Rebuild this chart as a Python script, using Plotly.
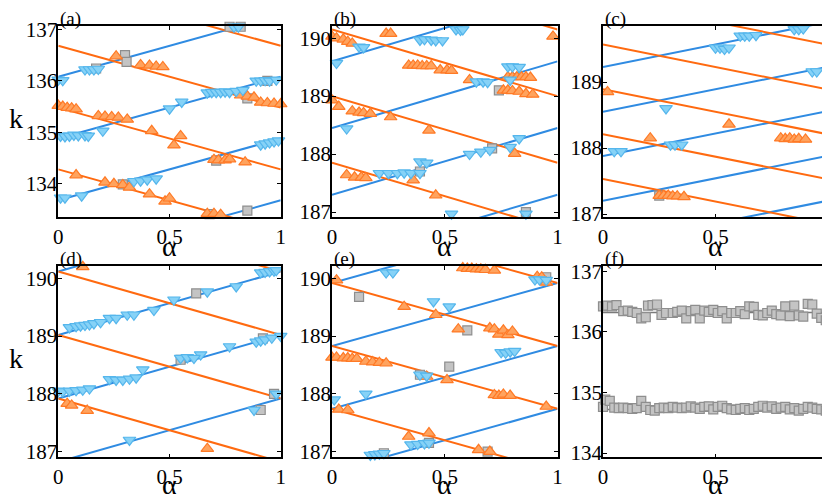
import plotly.graph_objects as go

# ---------------- data ----------------
panels = ["a", "b", "c", "d", "e", "f"]
y_ranges = {"a": [133.35, 137.065], "b": [186.91, 190.21], "c": [186.95, 189.85],
            "d": [186.9, 190.22], "e": [186.9, 190.22], "f": [133.93, 137.09]}
y_ticks = {"a": [134, 135, 136, 137], "b": [187, 188, 189, 190], "c": [187, 188, 189],
           "d": [187, 188, 189, 190], "e": [187, 188, 189, 190], "f": [134, 135, 136, 137]}
x_ticks = [0, 0.5, 1]
x_ticklabels = ["0", "0.5", "1"]

# model lines: k = intercept + slope * alpha
line_slope = {"a": 1.2, "b": 1.15, "c": 0.682, "d": 1.1, "e": 1.09}
blue_intercepts = {"a": [132.48, 133.68, 134.88, 136.08],
                   "b": [186.15, 187.3, 188.45, 189.6],
                   "c": [186.52, 187.2, 187.88, 188.55, 189.23],
                   "d": [186.82, 187.92, 189.02, 190.12],
                   "e": [186.65, 187.74, 188.83, 189.92]}
orange_intercepts = {"a": [134.28, 135.48, 136.68, 137.88],
                     "b": [187.85, 189.0, 190.15, 191.3],
                     "c": [187.53, 188.21, 188.89, 189.57, 190.25],
                     "d": [186.82, 187.92, 189.02, 190.12, 191.22],
                     "e": [187.74, 188.83, 189.92, 191.01]}
flat_levels_f = [136.32, 134.72]

# ---- measured points: orange up-triangles ----
a_up_alpha = [0.0, 0.02, 0.04, 0.06, 0.08, 0.18, 0.21, 0.24, 0.27, 0.31, 0.26, 0.37, 0.41, 0.44, 0.47,
              0.42, 0.52, 0.55, 0.82, 0.85, 0.88, 0.91, 0.94, 0.97, 1.0, 0.70, 0.72, 0.75, 0.77, 0.84,
              0.08, 0.21, 0.25, 0.29, 0.32, 0.41, 0.48, 0.50, 0.67, 0.70, 0.73]
a_up_k = [135.52, 135.50, 135.48, 135.47, 135.45, 135.32, 135.31, 135.30, 135.29, 135.25, 136.48, 136.31,
          136.30, 136.28, 136.27, 135.03, 134.75, 134.93, 135.72, 135.70, 135.68, 135.58, 135.57, 135.56,
          135.55, 134.47, 134.46, 134.46, 134.48, 134.42, 134.17, 134.03, 134.00, 133.98, 133.93, 133.80,
          133.66, 133.72, 133.42, 133.42, 133.40]
b_up_alpha = [0.0, 0.02, 0.05, 0.07, 0.09, 0.24, 0.26, 0.34, 0.36, 0.38, 0.40, 0.42, 0.44, 0.48, 0.51,
              0.53, 0.61, 0.78, 0.80, 0.82, 0.84, 0.86, 0.88, 0.76, 0.78, 0.80, 0.83, 0.86, 0.89, 0.98,
              0.0, 0.03, 0.09, 0.12, 0.14, 0.17, 0.26, 0.43, 0.81, 0.065, 0.1, 0.13, 0.15, 0.36, 0.46]
b_up_k = [190.03, 190.0, 189.98, 189.94, 189.91, 190.08, 190.08, 189.53, 189.53, 189.53, 189.52, 189.52,
          189.52, 189.45, 189.45, 189.44, 189.28, 189.33, 189.33, 189.33, 189.33, 189.33, 189.32, 189.1,
          189.1, 189.09, 189.08, 189.04, 189.03, 190.03, 188.93, 188.82, 188.74, 188.72, 188.71, 188.70,
          188.64, 188.41, 188.01, 187.64, 187.6, 187.6, 187.59, 187.55, 187.29]
c_up_alpha = [0.02, 0.21, 0.56, 0.79, 0.81, 0.83, 0.85, 0.87, 0.9, 0.25, 0.27, 0.29, 0.31, 0.33, 0.36]
c_up_k = [188.85, 188.15, 188.36, 188.15, 188.14, 188.15, 188.13, 188.14, 188.13, 187.28, 187.28, 187.28,
          187.27, 187.27, 187.26]
d_up_alpha = [0.11, 0.04, 0.06, 0.13, 0.67]
d_up_k = [190.2, 187.83, 187.8, 187.71, 187.05]
e_up_alpha = [0.02, 0.32, 0.46, 0.56, 0.58, 0.60, 0.62, 0.64, 0.66, 0.68, 0.72, 0.91, 0.93, 0.95, 0.70,
              0.72, 0.74, 0.76, 0.78, 0.80, 0.0, 0.02, 0.05, 0.07, 0.09, 0.11, 0.15, 0.18, 0.21, 0.24,
              0.42, 0.51, 0.72, 0.74, 0.76, 0.79, 0.95, 0.03, 0.07, 0.34, 0.43, 0.65, 0.70]
e_up_k = [189.97, 189.51, 189.37, 189.12, 190.18, 190.17, 190.17, 190.16, 190.16, 190.15, 190.14, 190.03,
          190.02, 189.93, 189.14, 189.12, 189.03, 189.1, 189.02, 189.08, 188.63, 188.63, 188.62, 188.62,
          188.61, 188.61, 188.56, 188.55, 188.54, 188.53, 188.3, 188.24, 187.98, 187.97, 187.99, 187.97,
          187.78, 187.73, 187.72, 187.26, 187.32, 187.03, 187.0]

# ---- measured points: blue down-triangles ----
a_dn_alpha = [0.0, 0.02, 0.12, 0.14, 0.16, 0.18, 0.79, 0.81, 0.01, 0.03, 0.05, 0.07, 0.09, 0.12, 0.135,
              0.2, 0.5, 0.555, 0.67, 0.69, 0.71, 0.73, 0.75, 0.77, 0.80, 0.83, 0.89, 0.91, 0.93, 0.95,
              0.98, 0.91, 0.93, 0.95, 0.97, 0.99, 0.01, 0.03, 0.105, 0.34, 0.37, 0.40, 0.44]
a_dn_k = [136.02, 136.01, 136.22, 136.22, 136.22, 136.23, 137.05, 137.05, 134.93, 134.92, 134.93, 134.95,
          134.94, 134.94, 134.93, 135.03, 135.46, 135.59, 135.77, 135.78, 135.78, 135.78, 135.79, 135.78,
          135.80, 135.82, 136.0, 136.0, 136.01, 136.0, 136.02, 134.76, 134.78, 134.8, 134.82, 134.84,
          133.73, 133.73, 133.77, 134.05, 134.06, 134.08, 134.1]
b_dn_alpha = [0.02, 0.12, 0.14, 0.39, 0.41, 0.44, 0.46, 0.49, 0.55, 0.57, 0.58, 0.64, 0.67, 0.69, 0.78,
              0.80, 0.83, 0.79, 0.065, 0.21, 0.25, 0.29, 0.32, 0.35, 0.39, 0.39, 0.42, 0.61, 0.66, 0.70,
              0.83, 0.79, 0.53, 0.86]
b_dn_k = [189.57, 189.85, 189.84, 189.97, 189.98, 189.97, 189.96, 189.96, 190.15, 190.14, 190.15, 189.25,
          189.25, 189.24, 189.51, 189.51, 189.5, 189.28, 188.44, 187.67, 187.67, 187.67, 187.68, 187.67,
          187.67, 187.87, 187.85, 188.0, 188.04, 188.07, 188.27, 188.12, 186.97, 186.97]
c_dn_alpha = [0.85, 0.87, 0.89, 0.61, 0.63, 0.65, 0.68, 0.5, 0.52, 0.54, 0.56, 0.93, 0.95, 0.28, 0.05,
              0.08, 0.3, 0.32, 0.35]
c_dn_k = [189.8, 189.8, 189.81, 189.7, 189.7, 189.7, 189.71, 189.52, 189.52, 189.5, 189.52, 189.16,
          189.16, 188.6, 187.95, 187.95, 188.05, 188.05, 188.05]
d_dn_alpha = [0.91, 0.93, 0.95, 0.97, 0.98, 0.80, 0.67, 0.52, 0.43, 0.31, 0.34, 0.23, 0.26, 0.05, 0.08,
              0.10, 0.12, 0.14, 0.16, 0.19, 0.89, 0.91, 0.93, 0.96, 1.0, 0.77, 0.64, 0.55, 0.58, 0.61,
              0.38, 0.23, 0.26, 0.29, 0.32, 0.35, 0.0, 0.02, 0.05, 0.08, 0.11, 0.14, 0.88, 0.98, 0.32]
d_dn_k = [190.1, 190.11, 190.12, 190.13, 190.14, 189.86, 189.77, 189.63, 189.45, 189.37, 189.37, 189.31,
          189.31, 189.15, 189.17, 189.18, 189.19, 189.2, 189.22, 189.24, 188.9, 188.92, 188.94, 188.97,
          189.0, 188.82, 188.68, 188.62, 188.63, 188.62, 188.42, 188.25, 188.24, 188.24, 188.26, 188.28,
          188.05, 188.04, 188.05, 188.06, 188.07, 188.09, 187.72, 188.0, 187.2]
e_dn_alpha = [0.24, 0.27, 0.45, 0.52, 0.75, 0.77, 0.79, 0.81, 0.90, 0.92, 0.95, 0.15, 0.01, 0.39, 0.42,
              0.35, 0.38, 0.41, 0.43, 0.17, 0.19, 0.21, 0.23]
e_dn_k = [190.1, 190.1, 189.6, 189.51, 188.72, 188.71, 188.73, 188.74, 189.98, 189.98, 189.97, 188.0,
          187.9, 188.33, 188.31, 187.12, 187.13, 187.14, 187.15, 186.94, 186.95, 186.96, 186.97]

# ---- measured points: grey squares ----
a_sq_alpha = [0.3, 0.307, 0.17, 0.77, 0.82, 0.71, 0.68, 0.85, 0.85, 0.94, 0.29]
a_sq_k = [136.5, 136.37, 136.24, 137.05, 137.05, 134.45, 133.41, 133.48, 135.66, 136.0, 133.99]
b_sq_alpha = [0.74, 0.39, 0.71, 0.86]
b_sq_k = [189.1, 187.7, 188.1, 187.0]
c_sq_alpha = [0.25]
c_sq_k = [187.28]
d_sq_alpha = [0.62, 0.55, 0.92, 0.91, 0.97]
d_sq_k = [189.74, 188.59, 188.96, 187.72, 188.0]
e_sq_alpha = [0.12, 0.6, 0.52, 0.39, 0.95, 0.43, 0.69, 0.23]
e_sq_k = [189.68, 189.1, 188.47, 188.33, 190.02, 187.15, 187.0, 186.97]
f_sq_alpha_upper = [0.0, 0.02, 0.04, 0.06, 0.09, 0.11, 0.13, 0.15, 0.17, 0.19, 0.2, 0.22, 0.24, 0.26,
                    0.28, 0.31, 0.33, 0.35, 0.37, 0.39, 0.41, 0.43, 0.45, 0.47, 0.49, 0.51, 0.53, 0.55,
                    0.57, 0.59, 0.61, 0.63, 0.65, 0.67, 0.69, 0.71, 0.73, 0.75, 0.77, 0.79, 0.81, 0.83,
                    0.85, 0.87, 0.89, 0.91, 0.93, 0.95, 0.97, 0.99, 1.0]
f_sq_k_upper = [136.42, 136.43, 136.42, 136.44, 136.34, 136.35, 136.33, 136.31, 136.22, 136.24, 136.43,
                136.44, 136.45, 136.28, 136.31, 136.31, 136.33, 136.35, 136.22, 136.34, 136.36, 136.22,
                136.35, 136.33, 136.36, 136.31, 136.34, 136.22, 136.31, 136.31, 136.34, 136.29, 136.42,
                136.41, 136.28, 136.27, 136.31, 136.35, 136.29, 136.27, 136.42, 136.26, 136.43, 136.27,
                136.25, 136.46, 136.45, 136.3, 136.23, 136.19, 136.25]
f_sq_alpha_lower = [0.0, 0.01, 0.03, 0.05, 0.07, 0.09, 0.11, 0.13, 0.15, 0.17, 0.19, 0.21, 0.23, 0.25,
                    0.27, 0.29, 0.31, 0.33, 0.35, 0.37, 0.39, 0.41, 0.43, 0.45, 0.47, 0.49, 0.51, 0.53,
                    0.55, 0.57, 0.59, 0.61, 0.63, 0.65, 0.67, 0.69, 0.71, 0.73, 0.75, 0.77, 0.79, 0.81,
                    0.83, 0.85, 0.87, 0.89, 0.91, 0.93, 0.95, 0.97, 0.99, 1.0]
f_sq_k_lower = [134.76, 134.88, 134.86, 134.75, 134.74, 134.75, 134.74, 134.73, 134.74, 134.86, 134.76,
                134.71, 134.7, 134.74, 134.75, 134.74, 134.76, 134.75, 134.74, 134.75, 134.77, 134.75,
                134.73, 134.76, 134.77, 134.72, 134.76, 134.78, 134.74, 134.72, 134.71, 134.73, 134.74,
                134.71, 134.73, 134.76, 134.78, 134.75, 134.77, 134.73, 134.75, 134.76, 134.72, 134.74,
                134.7, 134.73, 134.76, 134.75, 134.73, 134.72, 134.7, 134.74]

panel_labels = ["(a)", "(b)", "(c)", "(d)", "(e)", "(f)"]

# ---------------- styling ----------------
# The page body has an 8 px margin, so the figure is drawn 8 px in from the
# window's top-left corner; window-pixel positions are shifted by OFF.
OFF = 8
W, H = 830 - OFF, 499 - OFF
col_px = [(58.3, 280.7), (332.0, 557.5), (603.0, 828.0)]
row_px = [(26.0, 217.3), (265.7, 457.3)]
alpha_label_gap = [29, 27]
ORANGE = "#FF6A10"
BLUE = "#2F8BE2"
UP_FILL, UP_EDGE = "#FFA35E", "#FF7A26"
DN_FILL, DN_EDGE = "#86D2F7", "#55B6EC"
SQ_FILL, SQ_EDGE = "#C4C4C4", "#8E8E8E"
FONT = "Liberation Serif, Times New Roman, serif"


def fx(px):
    return (px - OFF) / W


def fy(py):
    return 1 - (py - OFF) / H


up = {"a": (a_up_alpha, a_up_k), "b": (b_up_alpha, b_up_k), "c": (c_up_alpha, c_up_k),
      "d": (d_up_alpha, d_up_k), "e": (e_up_alpha, e_up_k)}
dn = {"a": (a_dn_alpha, a_dn_k), "b": (b_dn_alpha, b_dn_k), "c": (c_dn_alpha, c_dn_k),
      "d": (d_dn_alpha, d_dn_k), "e": (e_dn_alpha, e_dn_k)}
sq = {"a": (a_sq_alpha, a_sq_k), "b": (b_sq_alpha, b_sq_k), "c": (c_sq_alpha, c_sq_k),
      "d": (d_sq_alpha, d_sq_k), "e": (e_sq_alpha, e_sq_k),
      "f": (f_sq_alpha_upper + f_sq_alpha_lower, f_sq_k_upper + f_sq_k_lower)}

fig = go.Figure()
layout = dict(template="none", width=W, height=H, margin=dict(l=0, r=0, t=0, b=0, pad=0),
              paper_bgcolor="white", plot_bgcolor="white", showlegend=False)
annotations = []

for i, p in enumerate(panels):
    r, c = divmod(i, 3)
    n = i + 1
    xs = "" if n == 1 else str(n)
    xref, yref = "x" + xs, "y" + xs
    x0, x1 = col_px[c]
    top, bot = row_px[r]
    axis_common = dict(showline=True, linecolor="black", linewidth=1.6, mirror="allticks",
                       ticks="inside", ticklen=4, tickwidth=1, tickcolor="black",
                       showgrid=False, zeroline=False, automargin=False,
                       tickfont=dict(family=FONT, size=21, color="black"))
    layout["xaxis" + xs] = dict(axis_common, domain=[fx(x0), fx(x1)], range=[0, 1],
                                tickvals=x_ticks, ticktext=x_ticklabels, anchor=yref)
    layout["yaxis" + xs] = dict(axis_common, domain=[fy(bot), fy(top)], range=y_ranges[p],
                                tickvals=y_ticks[p], ticktext=[str(t) for t in y_ticks[p]],
                                anchor=xref, ticklabelstandoff=-5)

    # lines
    if p in line_slope:
        s = line_slope[p]
        for b0 in blue_intercepts[p]:
            fig.add_trace(go.Scatter(x=[0, 1], y=[b0, b0 + s], mode="lines",
                                     line=dict(color=BLUE, width=2), xaxis=xref, yaxis=yref,
                                     hoverinfo="skip"))
        for o0 in orange_intercepts[p]:
            fig.add_trace(go.Scatter(x=[0, 1], y=[o0, o0 - s], mode="lines",
                                     line=dict(color=ORANGE, width=2), xaxis=xref, yaxis=yref,
                                     hoverinfo="skip"))
    else:
        for lv in flat_levels_f:
            fig.add_trace(go.Scatter(x=[0, 1], y=[lv, lv], mode="lines",
                                     line=dict(color="#7A7A7A", width=1.5), xaxis=xref, yaxis=yref,
                                     hoverinfo="skip"))
    # markers
    if p in sq:
        fig.add_trace(go.Scatter(x=sq[p][0], y=sq[p][1], mode="markers", cliponaxis=False,
                                 marker=dict(symbol="square", size=9, color=SQ_FILL,
                                             line=dict(color=SQ_EDGE, width=1.2)),
                                 xaxis=xref, yaxis=yref))
    if p in up:
        fig.add_trace(go.Scatter(x=up[p][0], y=up[p][1], mode="markers", cliponaxis=False,
                                 marker=dict(symbol="triangle-up", size=11, color=UP_FILL,
                                             line=dict(color=UP_EDGE, width=1.2)),
                                 xaxis=xref, yaxis=yref))
    if p in dn:
        fig.add_trace(go.Scatter(x=dn[p][0], y=dn[p][1], mode="markers", cliponaxis=False,
                                 marker=dict(symbol="triangle-down", size=11, color=DN_FILL,
                                             line=dict(color=DN_EDGE, width=1.2)),
                                 xaxis=xref, yaxis=yref))

    # panel label, alpha label
    annotations.append(dict(text=panel_labels[i], xref="paper", yref="paper",
                            x=fx(x0), y=fy(top - 7), xanchor="left", yanchor="middle",
                            showarrow=False, font=dict(family=FONT, size=19, color="black")))
    annotations.append(dict(text="α", xref="paper", yref="paper",
                            x=fx((x0 + x1) / 2), y=fy(bot + alpha_label_gap[r]), xanchor="center",
                            yanchor="middle", showarrow=False,
                            font=dict(family=FONT, size=28, color="black")))
    if c == 0:
        annotations.append(dict(text="k", xref="paper", yref="paper",
                                x=fx(16), y=fy((top + bot) / 2 - 3), xanchor="center",
                                yanchor="middle", showarrow=False,
                                font=dict(family=FONT, size=28, color="black")))

layout["annotations"] = annotations
fig.update_layout(**layout)
fig.write_html("out.html")
